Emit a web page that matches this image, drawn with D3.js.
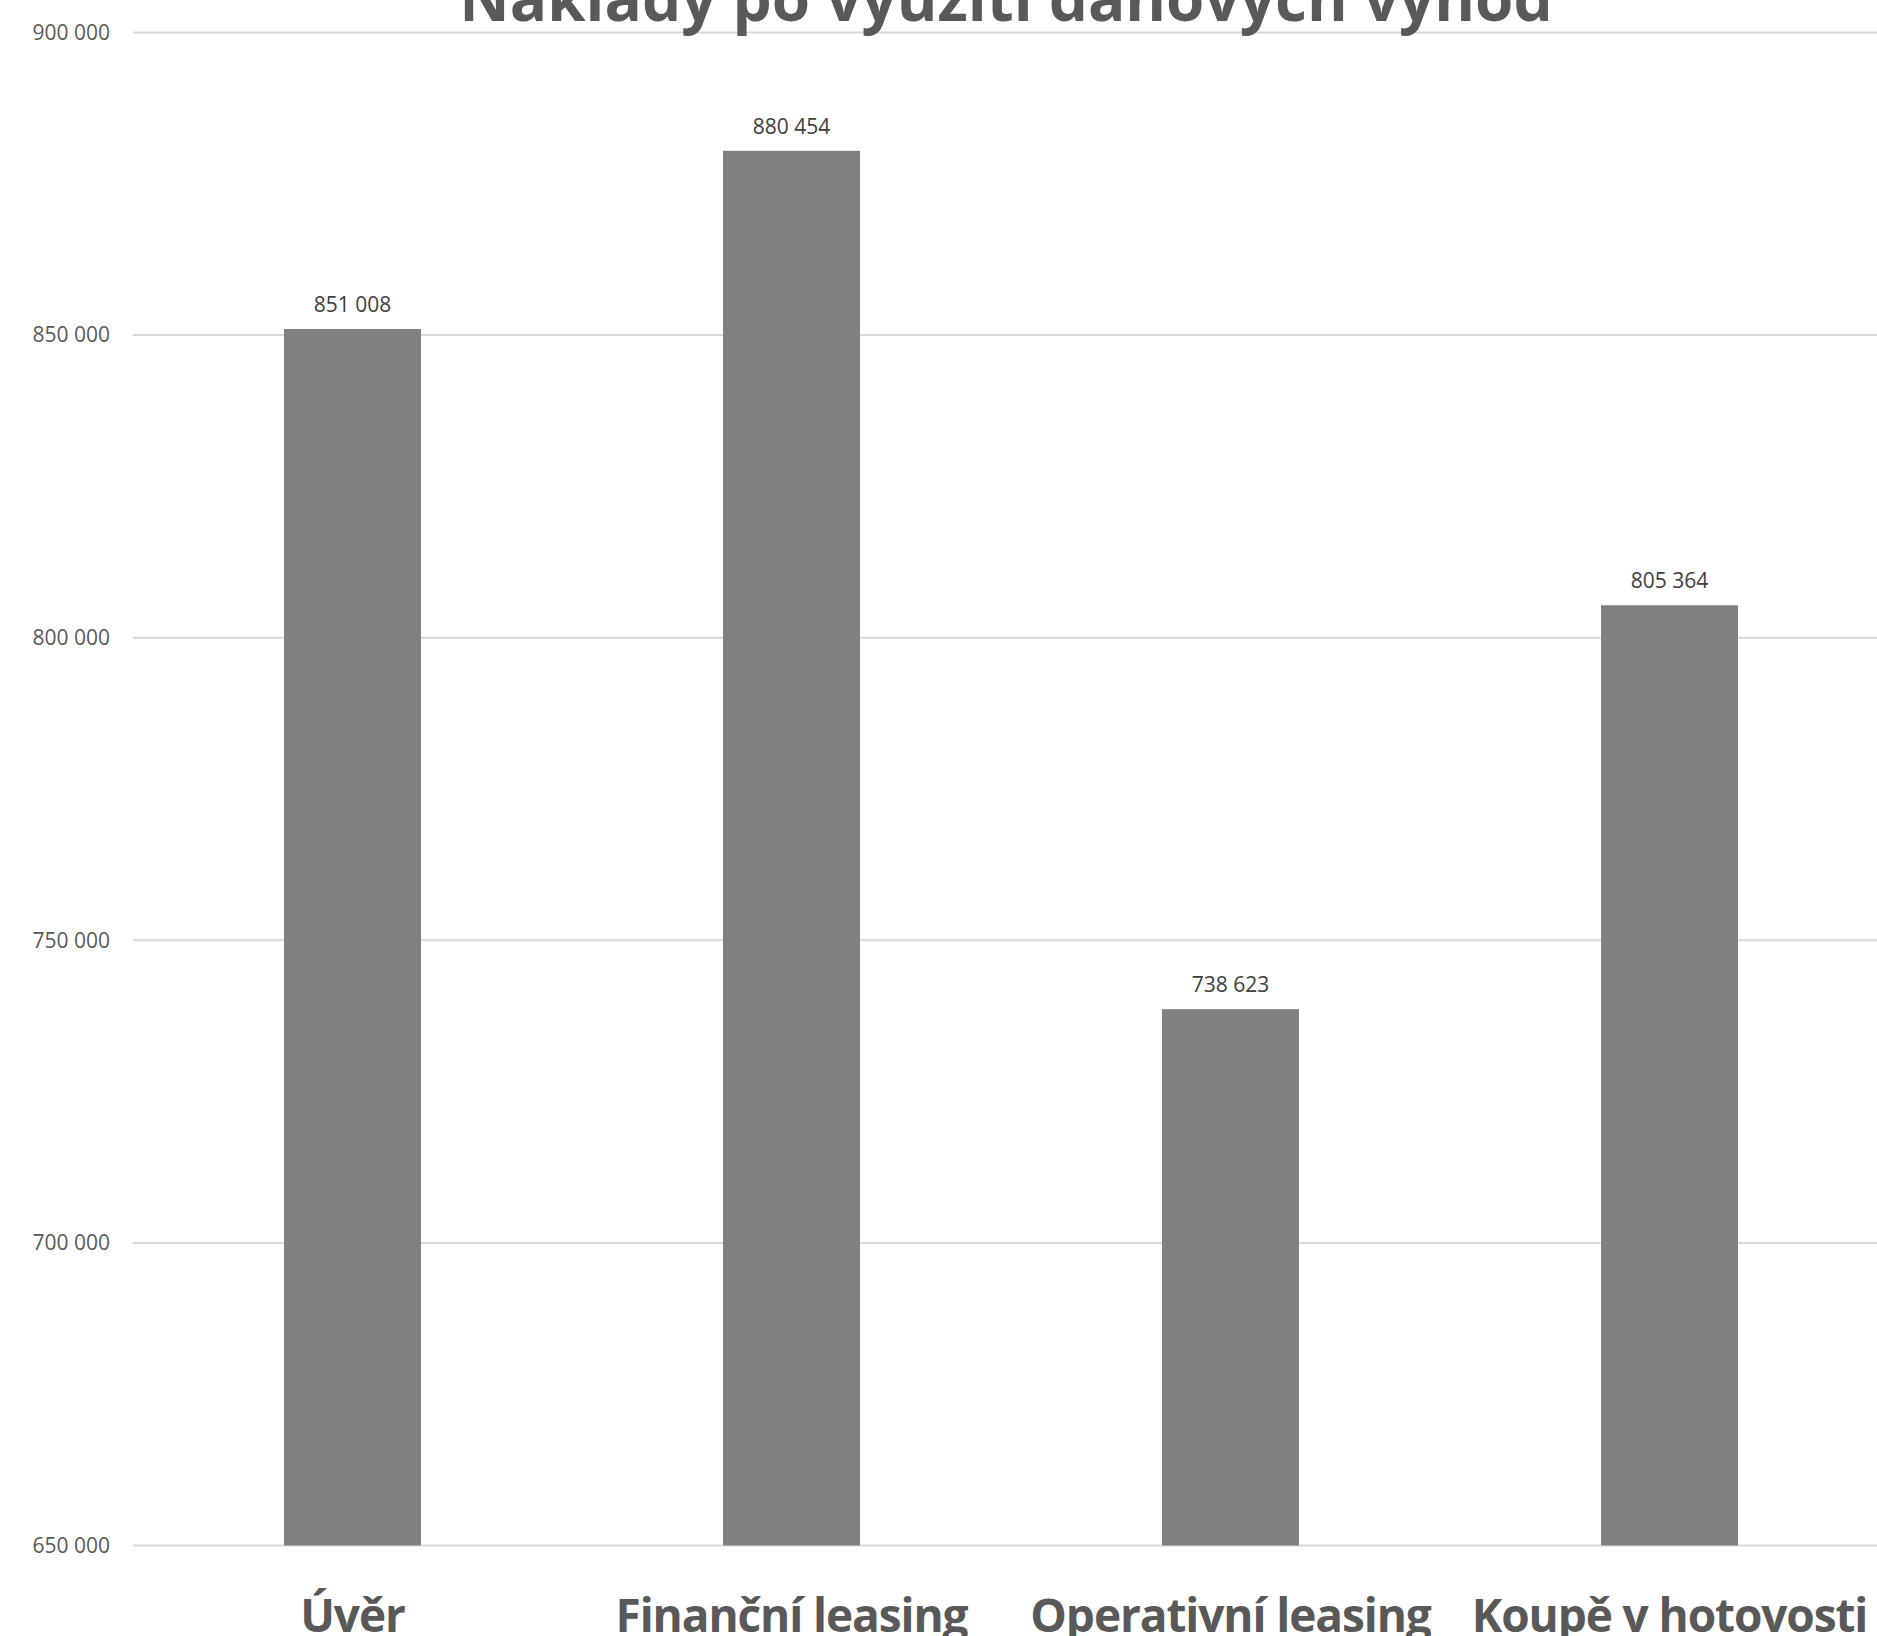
<!DOCTYPE html>
<html>
<head>
<meta charset="utf-8">
<script src="https://cdn.jsdelivr.net/npm/d3@7"></script>
<style>
  html, body { margin: 0; padding: 0; background: #fff; }
  svg { display: block; }
</style>
</head>
<body>
<div id="chart"></div>
<script>
// Náklady po využití daňových výhod — simple column chart

const title = 'Náklady po využití daňových výhod';
const categories = ['Úvěr', 'Finanční leasing', 'Operativní leasing', 'Koupě v hotovosti'];
const values = [851008, 880454, 738623, 805364];
const yTicks = [650000, 700000, 750000, 800000, 850000, 900000];

const W = 1877, H = 1636;
const plotLeft = 133, plotTop = 32.5, plotBottom = 1545.5;
const plotRight = 1889; // plot runs a bit past the picture edge

const fontFam = '"Open Sans", "Noto Sans", sans-serif';
const czLocale = d3.formatLocale({ decimal: ',', thousands: '\u00a0', grouping: [3], currency: ['', ' Kč'] });
const fmt = czLocale.format(',d');

const svg = d3.select('#chart').append('svg')
  .attr('width', W).attr('height', H);

const x = d3.scaleBand()
  .domain(categories)
  .range([plotLeft, plotRight])
  .paddingInner(0.688)
  .paddingOuter(0.344);

const y = d3.scaleLinear()
  .domain([650000, 900000])
  .range([plotBottom, plotTop]);

// gridlines + y labels
svg.append('g').selectAll('line').data(yTicks).enter().append('line')
  .attr('x1', plotLeft).attr('x2', W)
  .attr('y1', d => y(d)).attr('y2', d => y(d))
  .attr('stroke', '#d9d9d9').attr('stroke-width', 2);

const yAxis = d3.axisLeft(y).tickValues(yTicks).tickFormat(fmt).tickSize(0).tickPadding(23);
const gy = svg.append('g').attr('transform', `translate(${plotLeft},0)`).call(yAxis);
gy.select('.domain').remove();
gy.selectAll('text')
  .attr('font-family', fontFam).attr('font-size', 21).attr('fill', '#595959');

// bars
svg.append('g').selectAll('rect').data(values).enter().append('rect')
  .attr('x', (d, i) => x(categories[i]))
  .attr('width', x.bandwidth())
  .attr('y', d => y(d))
  .attr('height', d => y(650000) - y(d))
  .attr('fill', '#808080');

// value labels
svg.append('g').selectAll('text').data(values).enter().append('text')
  .attr('x', (d, i) => x(categories[i]) + x.bandwidth() / 2)
  .attr('y', d => y(d) - 17)
  .attr('text-anchor', 'middle')
  .attr('font-family', fontFam).attr('font-size', 21).attr('fill', '#404040')
  .text(d => fmt(d));

// category labels
const xAxis = d3.axisBottom(x).tickSize(0).tickPadding(0);
const gx = svg.append('g').attr('transform', `translate(0,${plotBottom})`).call(xAxis);
gx.select('.domain').remove();
gx.selectAll('text')
  .attr('dy', null)
  .attr('y', 86)
  .attr('font-family', fontFam).attr('font-size', 46).attr('font-weight', 'bold')
  .attr('letter-spacing', '-1.1px')
  .attr('fill', '#595959');

// title (cut at the top in the original)
svg.append('text')
  .attr('x', 1006).attr('y', 21)
  .attr('text-anchor', 'middle')
  .attr('font-family', fontFam).attr('font-size', 62).attr('font-weight', 'bold')
  .attr('fill', '#595959')
  .text(title);
</script>
</body>
</html>
